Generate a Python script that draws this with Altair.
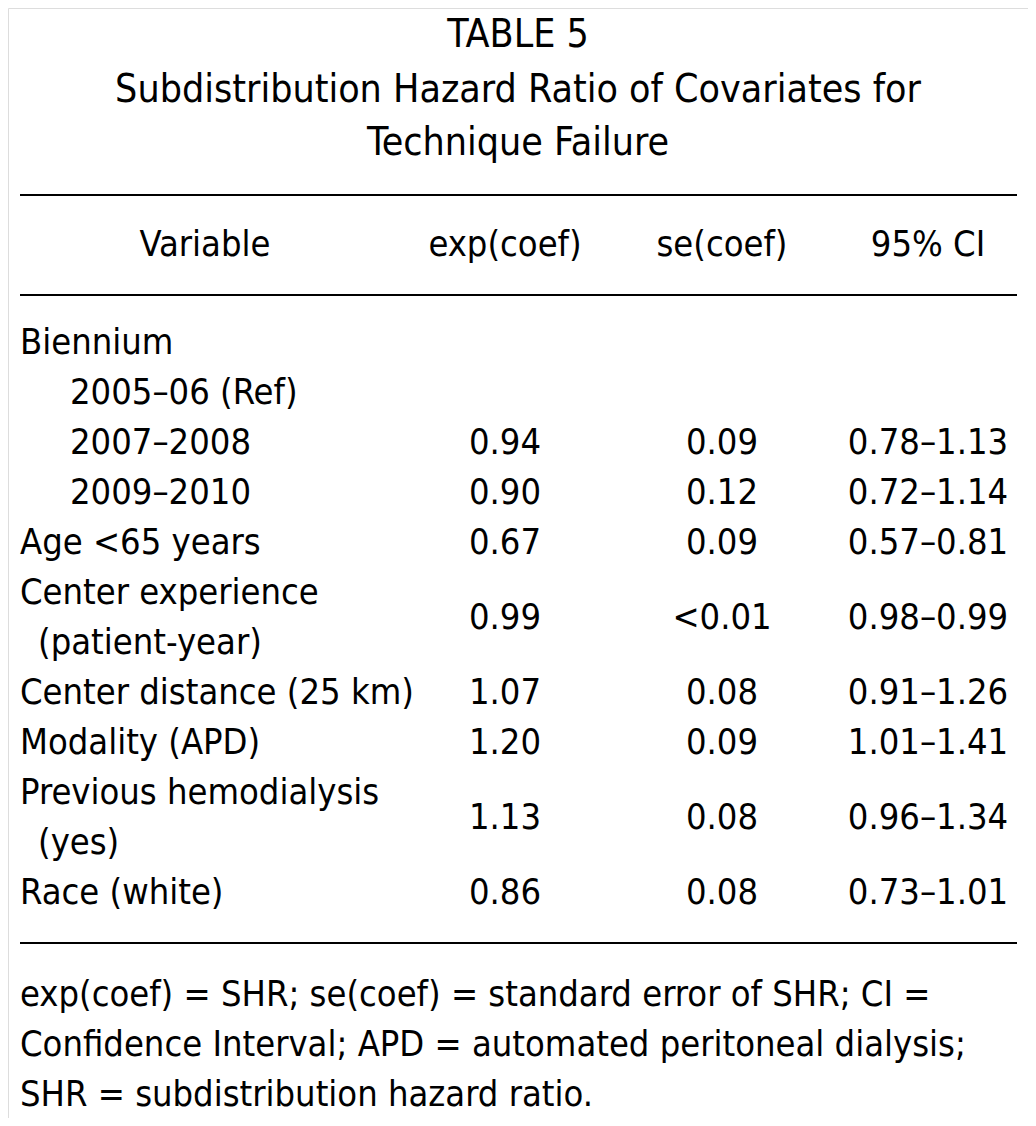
import altair as alt
import pandas as pd

FONT = "DejaVu Sans Condensed"
SIZE = 36
TITLE_SIZE = 39

title_lines = ["TABLE 5", "Subdistribution Hazard Ratio of Covariates for", "Technique Failure"]
title_rows = [-6.17, -5.07, -4.0]

headers = ["Variable", "exp(coef)", "se(coef)", "95% CI"]
header_cols = ["head_var", "exp", "se", "ci"]

variables = ["Biennium", "2005\u201306 (Ref)", "2007\u20132008", "2009\u20132010", "Age <65 years",
             "Center experience", "(patient-year)", "Center distance (25 km)", "Modality (APD)",
             "Previous hemodialysis", "(yes)", "Race (white)"]
var_cols = ["var", "indent", "indent", "indent", "var", "var", "indent2", "var", "var", "var", "indent2", "var"]
var_rows = [0, 1, 2, 3, 4, 5, 6, 7, 8, 9, 10, 11]

value_rows = [2, 3, 4, 5.5, 7, 8, 9.5, 11]
exp_coef = ["0.94", "0.90", "0.67", "0.99", "1.07", "1.20", "1.13", "0.86"]
se_coef = ["0.09", "0.12", "0.09", "<0.01", "0.08", "0.09", "0.08", "0.08"]
ci_95 = ["0.78\u20131.13", "0.72\u20131.14", "0.57\u20130.81", "0.98\u20130.99", "0.91\u20131.26",
         "1.01\u20131.41", "0.96\u20131.34", "0.73\u20131.01"]

footnotes = ["exp(coef) = SHR; se(coef) = standard error of SHR; CI =",
             "Confidence Interval; APD = automated peritoneal dialysis;",
             "SHR = subdistribution hazard ratio."]
foot_rows = [13.04, 14.04, 15.04]

rule_rows = [-2.96, -0.96, 12.0]

recs = []
for t, r in zip(title_lines, title_rows):
    recs.append({"row": r, "col": "title", "text": t})
for t, c in zip(headers, header_cols):
    recs.append({"row": -1.96, "col": c, "text": t})
for t, c, r in zip(variables, var_cols, var_rows):
    recs.append({"row": r, "col": c, "text": t})
for r, a, b, c in zip(value_rows, exp_coef, se_coef, ci_95):
    recs.append({"row": r, "col": "exp", "text": a})
    recs.append({"row": r, "col": "se", "text": b})
    recs.append({"row": r, "col": "ci", "text": c})
for t, r in zip(footnotes, foot_rows):
    recs.append({"row": r, "col": "foot", "text": t})

df = pd.DataFrame(recs)
rules = pd.DataFrame({"row": rule_rows})

# column layout: (x pixel in plot area, alignment, font size)
layout = {
    "title": (510, "center", TITLE_SIZE),
    "head_var": (197, "center", SIZE),
    "exp": (497, "center", SIZE),
    "se": (714, "center", SIZE),
    "ci": (920, "center", SIZE),
    "var": (12, "left", SIZE),
    "indent": (62, "left", SIZE),
    "indent2": (30, "left", SIZE),
    "foot": (12, "left", SIZE),
}

ys = alt.Y("row:Q", scale=alt.Scale(domain=[-6.7, 15.5], reverse=True, nice=False, zero=False), axis=None)

layers = [
    alt.Chart(rules).mark_rule(color="black", strokeWidth=2).encode(
        y=ys, x=alt.value(12), x2=alt.value(1009)
    )
]
base = alt.Chart(df)
for key, (px, al, fs) in layout.items():
    layers.append(
        base.transform_filter(alt.datum.col == key).mark_text(
            align=al, baseline="middle", font=FONT, fontSize=fs, color="black"
        ).encode(x=alt.value(px), y=ys, text="text:N")
    )

chart = alt.layer(*layers).properties(
    width=1020, height=1110, padding=0, autosize=alt.AutoSizeParams(type="none")
).configure_view(stroke=None).configure(background="white")

chart.save("out.html", embed_options={"renderer": "svg", "actions": False})
